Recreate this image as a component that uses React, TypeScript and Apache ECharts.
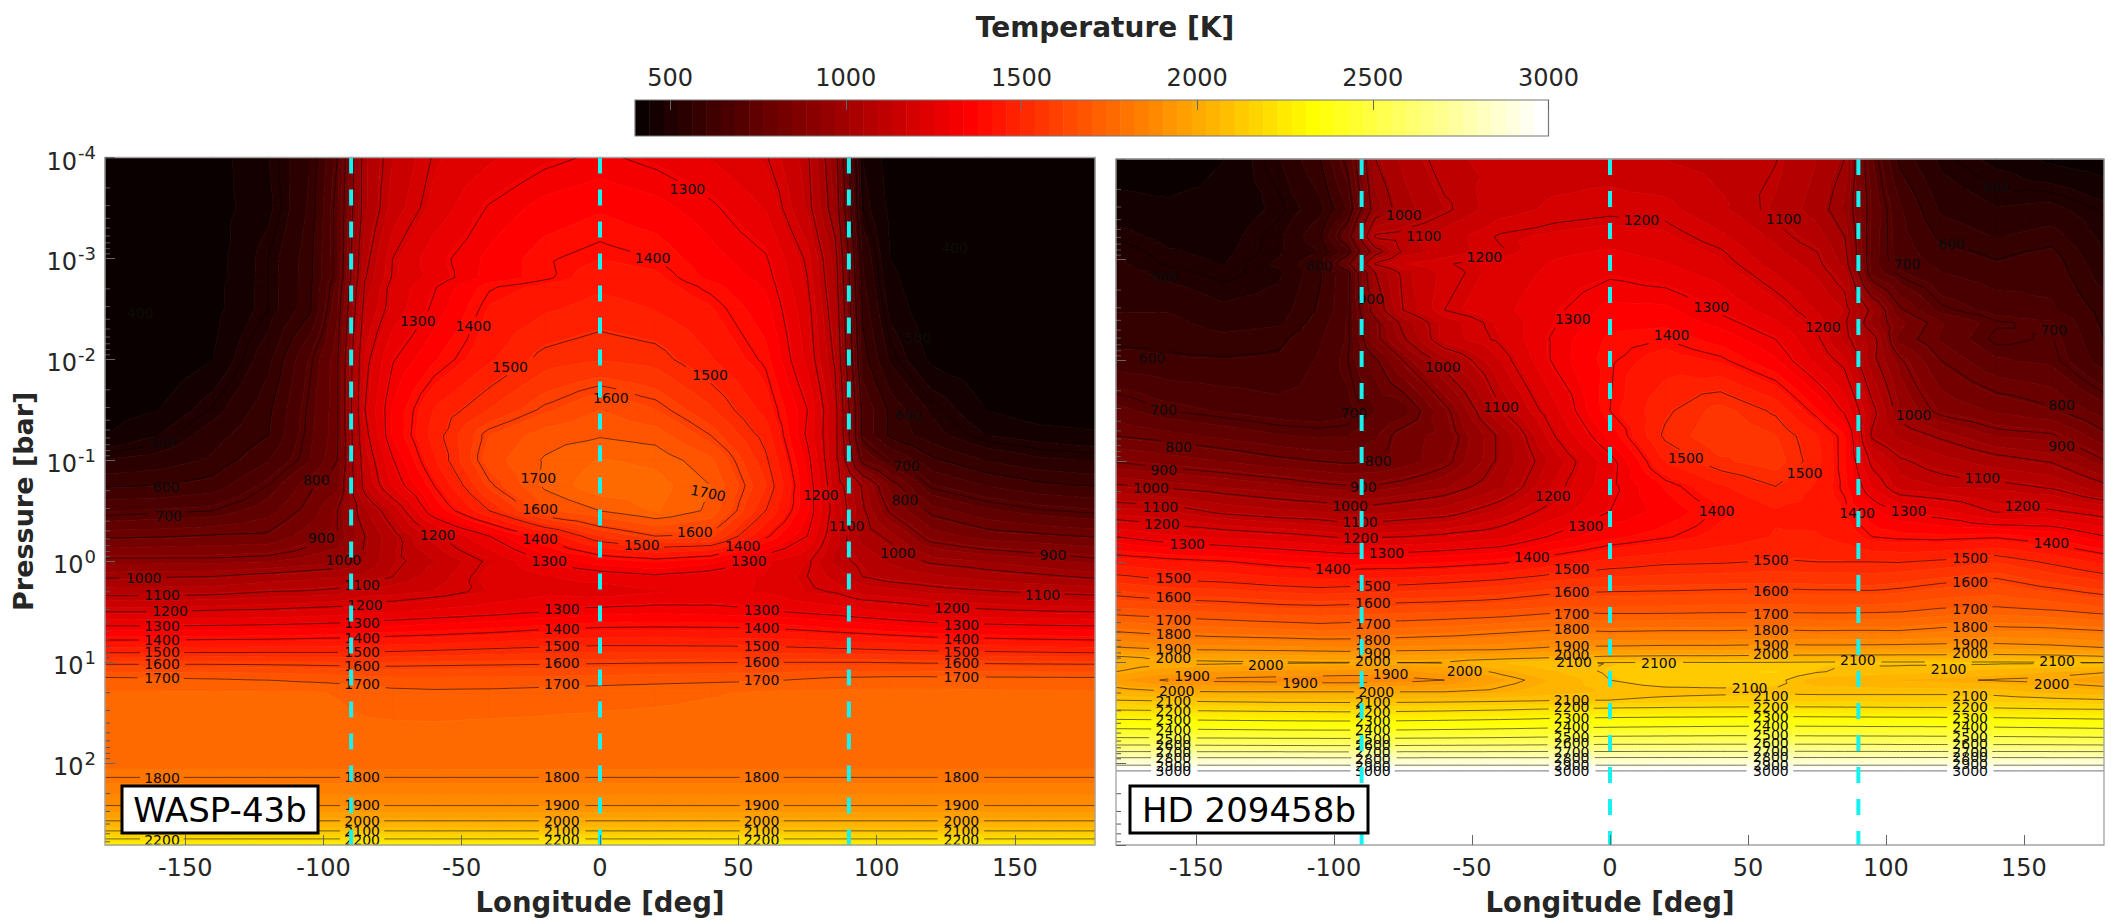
import React, { useEffect, useRef } from "react";
import * as echarts from "echarts";

const FONT = '"DejaVu Sans", sans-serif';
const INK = "#262626";

const longitudes = [-179,-160,-140,-120,-105,-95,-85,-75,-60,-40,-20,0,20,40,60,75,85,95,105,120,140,160,179];

const waspExponents = [-4,-3.5,-3,-2.81,-2.72,-2.5,-2,-1.5,-1.25,-1,-0.75,-0.5,-0.25,0,0.15,0.3,0.5,0.65,0.8,0.9,1,1.15,1.3,1.6,2.07,2.14,2.42,2.57,2.67,2.75,2.81];
const waspTemps = [
[405,405,420,480,560,700,1040,1130,1205,1245,1285,1310,1285,1250,1205,1110,940,480,420,402,400,400,400],
[405,405,420,470,570,720,1040,1150,1225,1305,1350,1370,1350,1310,1250,1125,960,500,430,405,400,400,400],
[405,405,420,500,585,720,1080,1200,1280,1345,1395,1415,1400,1350,1305,1190,1030,560,440,410,402,400,400],
[405,405,420,500,585,720,1095,1205,1270,1350,1392,1440,1425,1365,1320,1200,1040,570,450,405,402,400,400],
[405,405,425,500,590,740,1110,1220,1295,1395,1425,1450,1435,1390,1330,1205,1045,575,455,405,402,400,400],
[405,405,425,500,590,760,1130,1225,1310,1420,1450,1472,1455,1420,1350,1220,1060,590,470,405,402,400,400],
[400,400,440,550,690,790,1180,1295,1370,1450,1515,1535,1520,1460,1390,1240,1090,620,515,430,405,400,400],
[420,440,505,590,710,790,1200,1340,1460,1540,1610,1660,1620,1545,1440,1300,1130,680,590,515,440,410,405],
[440,480,545,600,715,790,1180,1340,1475,1620,1680,1695,1680,1600,1480,1290,1130,680,590,540,480,460,450],
[525,540,570,640,725,800,1150,1295,1450,1640,1705,1745,1730,1670,1510,1320,1130,770,690,610,560,530,520],
[595,600,620,700,790,830,1130,1260,1400,1590,1710,1770,1760,1700,1540,1340,1150,990,830,690,640,610,597],
[680,690,700,750,820,900,1040,1140,1340,1500,1650,1700,1745,1690,1500,1340,1170,1010,890,785,735,705,690],
[790,795,805,810,870,900,1000,1080,1190,1300,1420,1540,1600,1590,1410,1300,1150,1030,985,870,825,810,795],
[915,915,915,925,945,960,1010,1085,1130,1210,1300,1355,1380,1350,1260,1210,1120,1085,1045,990,965,940,915],
[990,995,1000,1020,1035,1045,1060,1100,1150,1225,1250,1270,1290,1270,1250,1200,1160,1100,1075,1060,1030,1010,990],
[1075,1075,1080,1100,1105,1115,1150,1155,1175,1215,1240,1230,1250,1260,1250,1210,1195,1155,1145,1122,1105,1090,1080],
[1200,1200,1210,1215,1225,1230,1245,1250,1265,1280,1300,1320,1325,1320,1308,1290,1280,1265,1252,1230,1215,1205,1200],
[1307,1307,1310,1315,1320,1325,1335,1340,1350,1365,1385,1397,1400,1398,1395,1380,1368,1358,1345,1330,1320,1312,1307],
[1415,1415,1418,1420,1425,1428,1433,1438,1445,1458,1472,1480,1480,1478,1475,1468,1462,1455,1448,1435,1428,1420,1415],
[1495,1495,1497,1498,1498,1498,1498,1505,1512,1522,1530,1538,1536,1535,1533,1528,1524,1520,1515,1510,1505,1500,1495],
[1585,1585,1585,1583,1580,1578,1575,1578,1582,1586,1590,1593,1596,1598,1600,1600,1600,1600,1597,1593,1590,1587,1585],
[1700,1698,1695,1690,1680,1675,1668,1662,1662,1663,1665,1670,1675,1680,1685,1695,1700,1702,1705,1705,1703,1701,1700],
[1745,1745,1745,1745,1745,1738,1725,1715,1710,1712,1718,1725,1732,1738,1745,1750,1750,1752,1752,1752,1750,1748,1745],
[1752,1752,1752,1752,1752,1750,1745,1743,1742,1745,1748,1750,1750,1752,1752,1752,1752,1752,1752,1752,1752,1752,1752],
[1782,1782,1782,1782,1782,1782,1782,1782,1782,1782,1782,1782,1782,1782,1782,1782,1782,1782,1782,1782,1782,1782,1782],
[1800,1800,1800,1800,1800,1800,1800,1800,1800,1800,1800,1800,1800,1800,1800,1800,1800,1800,1800,1800,1800,1800,1800],
[1900,1900,1900,1900,1900,1900,1900,1900,1900,1900,1900,1900,1900,1900,1900,1900,1900,1900,1900,1900,1900,1900,1900],
[2000,2000,2000,2000,2000,2000,2000,2000,2000,2000,2000,2000,2000,2000,2000,2000,2000,2000,2000,2000,2000,2000,2000],
[2100,2100,2100,2100,2100,2100,2100,2100,2100,2100,2100,2100,2100,2100,2100,2100,2100,2100,2100,2100,2100,2100,2100],
[2200,2200,2200,2200,2200,2200,2200,2200,2200,2200,2200,2200,2200,2200,2200,2200,2200,2200,2200,2200,2200,2200,2200],
[2270,2270,2270,2270,2270,2270,2270,2270,2270,2270,2270,2270,2270,2270,2270,2270,2270,2270,2270,2270,2270,2270,2270],
];

const hdExponents = [-4,-3.5,-3.23,-3.08,-2.96,-2.87,-2.5,-2.375,-2.21,-2,-1.5,-1.25,-1,-0.75,-0.5,-0.25,0,0.2,0.45,0.7,0.85,0.95,1,1.09,1.173,1.289,1.372,1.47,1.563,1.655,1.744,1.817,1.883,1.943,2.018,2.074];
const hdTemps = [
[410,410,440,520,600,720,1000,1060,1125,1140,1150,1150,1130,1115,1102,1050,1000,730,590,510,470,430,410],
[460,450,455,490,550,650,950,1030,1090,1155,1180,1190,1185,1140,1085,1030,960,760,650,555,525,535,495],
[495,470,465,515,597,760,1110,1125,1150,1205,1220,1230,1220,1180,1120,1070,1000,750,660,590,560,580,510],
[520,485,472,515,565,670,960,1110,1150,1195,1245,1258,1238,1205,1140,1100,1020,745,665,615,590,610,520],
[530,495,480,530,600,780,1110,1170,1195,1225,1258,1275,1255,1220,1155,1115,1035,740,675,630,605,625,530],
[540,510,490,515,595,680,1000,1115,1185,1225,1265,1290,1270,1235,1170,1125,1070,750,690,645,620,630,540],
[560,560,530,540,610,680,950,1100,1200,1240,1290,1348,1345,1290,1230,1170,1130,980,810,710,670,650,585],
[575,575,545,555,625,690,880,1020,1150,1220,1295,1360,1365,1320,1260,1190,1110,950,860,770,705,690,590],
[590,590,575,590,640,690,880,990,1150,1210,1310,1385,1400,1360,1300,1210,1120,1030,830,760,690,705,600],
[620,608,605,610,650,700,790,900,1030,1170,1310,1395,1435,1410,1340,1240,1180,1020,910,800,730,715,620],
[740,700,680,660,655,670,725,740,880,1090,1240,1400,1490,1555,1490,1380,1290,1120,970,880,840,810,745],
[800,780,755,730,720,725,760,830,860,1010,1200,1350,1510,1570,1540,1460,1380,1090,1040,990,925,910,815],
[895,870,845,815,800,790,800,820,880,1010,1150,1280,1460,1530,1560,1470,1380,1180,1110,1070,1025,995,905],
[1010,990,965,940,915,905,905,925,960,1040,1180,1285,1380,1450,1500,1450,1390,1250,1150,1130,1120,1090,1015],
[1153,1135,1085,1060,1050,1030,1035,1050,1070,1140,1230,1300,1350,1405,1450,1440,1415,1350,1300,1270,1195,1210,1170],
[1300,1265,1245,1225,1205,1190,1195,1200,1215,1240,1310,1365,1395,1430,1460,1460,1440,1400,1390,1385,1395,1365,1305],
[1440,1420,1405,1380,1365,1355,1360,1360,1370,1390,1435,1470,1490,1495,1505,1500,1500,1500,1498,1510,1535,1490,1445],
[1535,1510,1500,1480,1470,1475,1480,1485,1495,1515,1545,1560,1565,1570,1575,1570,1570,1565,1575,1595,1615,1575,1540],
[1655,1640,1630,1615,1610,1615,1620,1625,1630,1640,1665,1665,1665,1670,1670,1668,1668,1670,1675,1695,1702,1685,1660],
[1805,1785,1770,1760,1750,1755,1760,1765,1775,1795,1815,1805,1810,1810,1815,1810,1812,1812,1810,1825,1830,1825,1810],
[1905,1880,1875,1870,1865,1860,1860,1870,1875,1880,1905,1910,1915,1915,1920,1918,1918,1920,1922,1925,1925,1915,1900],
[2015,1985,1975,1970,1965,1965,1965,1965,1970,1975,2000,2015,2020,2020,2025,2028,2030,2030,2030,2030,2035,2030,2015],
[2025,2012,2010,2006,2003,2003,2003,2000,2003,2060,2102,2102,2105,2103,2105,2110,2110,2110,2110,2110,2110,2108,2100],
[2000,1960,1940,1930,1930,1925,1920,1930,1960,2010,2060,2110,2140,2140,2150,2105,2090,2085,2080,2070,2045,2025,2005],
[1950,1890,1885,1880,1870,1870,1875,1880,1900,1975,2030,2100,2130,2130,2120,2040,2040,2030,2020,2010,1995,1985,1960],
[2030,2005,2000,2000,2000,2000,1998,2000,2000,2015,2050,2070,2080,2085,2090,2085,2085,2085,2085,2085,2080,2050,2035],
[2100,2090,2082,2075,2075,2075,2075,2075,2078,2085,2095,2100,2115,2125,2130,2130,2130,2130,2130,2130,2125,2115,2105],
[2200,2195,2190,2185,2182,2180,2180,2185,2190,2200,2215,2225,2230,2232,2235,2232,2230,2228,2226,2225,2220,2212,2207],
[2300,2295,2290,2285,2283,2283,2283,2285,2290,2298,2310,2318,2322,2325,2328,2326,2325,2324,2323,2322,2318,2310,2303],
[2400,2395,2390,2385,2383,2382,2382,2385,2390,2398,2408,2415,2420,2425,2428,2426,2425,2423,2422,2421,2416,2410,2403],
[2500,2497,2494,2491,2490,2490,2490,2492,2495,2500,2508,2515,2518,2520,2520,2518,2518,2517,2516,2515,2512,2508,2503],
[2600,2598,2595,2592,2590,2590,2590,2592,2595,2598,2603,2608,2608,2610,2610,2610,2608,2608,2606,2606,2605,2603,2600],
[2700,2700,2698,2698,2696,2696,2696,2698,2698,2700,2702,2702,2703,2703,2704,2704,2703,2703,2702,2702,2702,2701,2700],
[2800,2800,2800,2800,2798,2798,2798,2798,2800,2800,2800,2802,2802,2802,2802,2802,2802,2802,2802,2802,2802,2800,2800],
[2900,2900,2900,2900,2900,2900,2900,2900,2900,2900,2900,2900,2900,2900,2900,2900,2900,2900,2900,2900,2900,2900,2900],
[3000,3000,3000,3000,3000,3000,3000,3000,3000,3000,3000,3000,3000,3000,3000,3000,3000,3000,3000,3000,3000,3000,3000],
];

// contour labels: [longitude, pressure exponent, level, rotation]
const waspLabels = [
[-165,0.166,1000],[-158.4,0.335,1100],[-155.5,0.49,1200],[-158.4,0.641,1300],[-158.4,0.777,1400],[-158.4,0.903,1500],[-158.4,1.022,1600],[-158.4,1.153,1700],[-158.4,2.147,1800],[-158.4,2.757,2200],
[-92.8,-0.015,1000],[-86,0.233,1100],[-85,0.434,1200],[-86,0.612,1300],[-86,0.757,1400],[-86,0.9,1500],[-86,1.035,1600],[-86,1.22,1700],[-86,2.14,1800],[-86,2.418,1900],[-86,2.57,2000],[-86,2.675,2100],[-86,2.757,2200],
[-13.8,0.477,1300],[-13.8,0.668,1400],[-13.8,0.84,1500],[-13.8,1.012,1600],[-13.8,1.22,1700],[-13.8,2.137,1800],[-13.8,2.418,1900],[-13.8,2.57,2000],[-13.8,2.675,2100],[-13.8,2.757,2200],
[58.4,0.483,1300],[58.4,0.665,1400],[58.4,0.837,1500],[58.4,0.995,1600],[58.4,1.173,1700],[58.4,2.137,1800],[58.4,2.418,1900],[58.4,2.57,2000],[58.4,2.675,2100],[58.4,2.757,2200],
[127.2,0.463,1200],[130.7,0.626,1300],[130.7,0.767,1400],[130.7,0.896,1500],[130.7,1.012,1600],[130.7,1.144,1700],[130.7,2.14,1800],[130.7,2.418,1900],[130.7,2.57,2000],[130.7,2.675,2100],[130.7,2.757,2200],
[-166.2,-2.46,400],[-65.9,-2.384,1300],[-45.8,-2.33,1400],[-32.5,-1.923,1500],[3.9,-1.62,1600],[-158.4,-1.183,500],[-156.9,-0.74,600],[-102.6,-0.807,800],[-22.3,-0.824,1700],
[31.6,-3.685,1300],[19,-3.0,1400],[39.8,-1.847,1500],[39.1,-0.675,1700,-0.2],[79.9,-0.658,1200],[128.3,-3.1,400],[115,-2.21,500],[111.5,-1.45,600],[110.8,-0.94,700],[110.2,-0.61,800],
[-156,-0.45,700],[-100.8,-0.23,900],[-58.7,-0.265,1200],[-21.7,-0.52,1600],[-21.7,-0.226,1400],[-18.4,-0.005,1300],
[34.3,-0.295,1600],[15.1,-0.157,1500],[51.6,-0.147,1400],[53.8,-0.008,1300],[89.2,-0.345,1100],[107.7,-0.081,1000],[163.8,-0.064,900],[160,0.332,1100],
];
const hdLabels = [
[-162.9,-0.55,1100],[-162.4,-0.378,1200],[-153.2,-0.177,1300],[-158.2,0.163,1500],[-158.2,0.351,1600],[-158.2,0.572,1700],[-158.2,0.718,1800],[-158.2,0.866,1900],[-158.2,0.955,2000],[-151.4,1.13,1900],[-157,1.279,2000],[-158.2,1.384,2100],[-158.2,1.477,2200],[-158.2,1.573,2300],[-158.2,1.665,2400],[-158.2,1.754,2500],[-158.2,1.82,2600],[-158.2,1.886,2700],[-158.2,1.949,2800],[-158.2,2.021,2900],[-158.2,2.077,3000],
[-100.4,0.071,1400],[-124.7,1.025,2000],[-112.3,1.2,1900],
[-94.2,-0.56,1000],[-90.6,-0.394,1100],[-90.4,-0.239,1200],[-81,-0.091,1300],[-85.9,0.242,1500],[-85.9,0.411,1600],[-85.9,0.615,1700],[-85.9,0.77,1800],[-85.9,0.903,1900],[-85.9,0.982,2000],[-79.5,1.114,1900],[-84.7,1.295,2000],[-85.9,1.391,2100],[-85.9,1.487,2200],[-85.9,1.579,2300],[-85.9,1.668,2400],[-85.9,1.754,2500],[-85.9,1.82,2600],[-85.9,1.889,2700],[-85.9,1.952,2800],[-85.9,2.021,2900],[-85.9,2.077,3000],
[-52.7,1.081,2000],[-28.3,-0.048,1400],[-8.8,-0.361,1300],[-13.9,0.068,1500],[-13.9,0.299,1600],[-13.9,0.513,1700],[-13.9,0.668,1800],[-13.9,0.83,1900],[-13.9,0.919,2000],[-13,0.998,2100],[-13.9,1.375,2100],[-13.9,1.444,2200],[-13.9,1.553,2300],[-13.9,1.642,2400],[-13.9,1.734,2500],[-13.9,1.8,2600],[-13.9,1.883,2700],[-13.9,1.942,2800],[-13.9,2.018,2900],[-13.9,2.074,3000],
[-161.7,-2.827,500],[-105.4,-2.936,600],[-74.7,-3.447,1000],[-67.5,-3.233,1100],[-45.5,-3.025,1200],[-166,-2.028,600],[-86.7,-2.606,900],[-60.6,-1.936,1000],[-39.5,-1.54,1100],[-13.5,-2.408,1300],[-161.8,-1.507,700],[-92.8,-1.474,700],[-156.3,-1.144,800],[-84,-1.005,800],[-161.7,-0.916,900],[-89.4,-0.748,900],[-166.3,-0.734,1000],[-20.7,-0.658,1200],
[11.4,-3.398,1200],[62.9,-3.404,1100],[139.8,-3.718,500],[123.7,-3.157,600],[107.6,-2.959,700],[36.7,-2.533,1300],[77.1,-2.332,1200],[22.3,-2.25,1400],[160.8,-2.299,700],[110,-1.457,1000],[163.6,-1.56,800],[163.6,-1.153,900],[27.5,-1.032,1500],[70.5,-0.88,1500],[134.9,-0.833,1100],
[38.6,-0.51,1400],[89.5,-0.484,1400],[108.2,-0.51,1300],[149.4,-0.56,1200],[159.9,-0.19,1400],[58.3,-0.022,1500],[130.5,-0.041,1500],[58.3,0.289,1600],[130.5,0.2,1600],[58.3,0.513,1700],[130.5,0.464,1700],[58.3,0.678,1800],[130.5,0.648,1800],[58.3,0.827,1900],[130.5,0.817,1900],[58.3,0.916,2000],[130.5,0.903,2000],[17.7,1.0,2100],[89.8,0.975,2100],[162,0.982,2100],[122.7,1.058,2100],[160,1.216,2000],[50.6,1.256,2100],
[58.3,1.332,2100],[58.3,1.437,2200],[58.3,1.536,2300],[58.3,1.629,2400],[58.3,1.721,2500],[58.3,1.8,2600],[58.3,1.873,2700],[58.3,1.939,2800],[58.3,2.015,2900],[58.3,2.074,3000],
[130.5,1.332,2100],[130.5,1.444,2200],[130.5,1.546,2300],[130.5,1.642,2400],[130.5,1.734,2500],[130.5,1.81,2600],[130.5,1.883,2700],[130.5,1.939,2800],[130.5,2.005,2900],[130.5,2.071,3000],
];

const waspLevels = [500,600,700,800,900,1000,1100,1200,1300,1400,1500,1600,1700,1800,1900,2000,2100,2200];
const hdLevels = [500,600,700,800,900,1000,1100,1200,1300,1400,1500,1600,1700,1800,1900,2000,2100,2200,2300,2400,2500,2600,2700,2800,2900,3000];
const colorTicks = [500,1000,1500,2000,2500,3000];
const lonTicks = [-150,-100,-50,0,50,100,150];
const dashedLons = [-90,0,90];
const T_MIN = 400;
const T_MAX = 3000;
const STEPS = 64;
const P_MIN = 1e-4;
const P_MAX = Math.pow(10, 2.81);
const bandIndices = Array.from({ length: STEPS }, (_, i) => i);
const bandW = (T_MAX - T_MIN) / STEPS;

function hot(i: number) {
  const n = i + 1;
  const c = (v: number) => Math.round(255 * Math.max(0, Math.min(1, v)));
  return `rgb(${c(n / 24)},${c((n - 24) / 24)},${c((n - 48) / 16)})`;
}

type V = [number, number, number];
function buildTriangles(api: any, exps: number[], temps: number[][]) {
  const pts: V[][] = exps.map((e, r) =>
    longitudes.map((lon, c) => {
      const p = api.coord([lon, Math.pow(10, e)]);
      return [p[0], p[1], temps[r][c]] as V;
    })
  );
  const tris: V[][] = [];
  for (let r = 0; r + 1 < exps.length; r++) {
    for (let c = 0; c + 1 < longitudes.length; c++) {
      const a = pts[r][c], b = pts[r][c + 1], d = pts[r + 1][c + 1], e = pts[r + 1][c];
      const m: V = [(a[0] + b[0] + d[0] + e[0]) / 4, (a[1] + b[1] + d[1] + e[1]) / 4, (a[2] + b[2] + d[2] + e[2]) / 4];
      tris.push([m, a, b], [m, b, d], [m, d, e], [m, e, a]);
    }
  }
  return tris;
}

function clipAt(poly: V[], lim: number, keepAbove: boolean) {
  const out: V[] = [];
  const inside = (t: number) => (keepAbove ? t >= lim : t <= lim);
  for (let i = 0; i < poly.length; i++) {
    const a = poly[i], b = poly[(i + 1) % poly.length];
    const ia = inside(a[2]), ib = inside(b[2]);
    if (ia) out.push(a);
    if (ia !== ib) {
      const t = (lim - a[2]) / (b[2] - a[2]);
      out.push([a[0] + t * (b[0] - a[0]), a[1] + t * (b[1] - a[1]), lim]);
    }
  }
  return out;
}

function makePanel(gridIndex: number, exps: number[], temps: number[][], labels: number[][], levels: number[]) {
  let tris: V[][] | null = null;
  const getTris = (api: any) => (tris = tris || buildTriangles(api, exps, temps));
  const base = { type: "custom", coordinateSystem: "cartesian2d", xAxisIndex: gridIndex, yAxisIndex: gridIndex, silent: true, clip: false, encode: { x: 0, y: 1 } };
  const fill = {
    ...base, z: 1,
    data: bandIndices.map((i) => [0, 1, i]),
    renderItem: (_: any, api: any) => {
      const i = api.value(2);
      const lo = i === 0 ? -1e9 : T_MIN + i * bandW;
      const hi = i === STEPS - 1 ? 1e9 : T_MIN + (i + 1) * bandW;
      let d = "";
      for (const tri of getTris(api)) {
        const mn = Math.min(tri[0][2], tri[1][2], tri[2][2]);
        const mx = Math.max(tri[0][2], tri[1][2], tri[2][2]);
        if (mx < lo || mn > hi) continue;
        let poly = clipAt(tri, lo, true);
        if (poly.length) poly = clipAt(poly, hi, false);
        if (poly.length < 3) continue;
        d += "M" + poly.map((q) => q[0].toFixed(1) + " " + q[1].toFixed(1)).join("L") + "Z";
      }
      if (!d) return null;
      const col = hot(i);
      return { type: "path", shape: { pathData: d }, style: { fill: col, stroke: col, lineWidth: 0.7 } };
    },
  };
  const lines = {
    ...base, z: 2,
    data: levels.map((l) => [0, 1, l]),
    renderItem: (_: any, api: any) => {
      const L = api.value(2);
      const boxes = labels.filter((b) => b[2] === L).map((b) => {
        const p = api.coord([b[0], Math.pow(10, b[1])]);
        return [p[0], p[1], L >= 1000 ? 23 : 18];
      });
      let d = "";
      for (const tri of getTris(api)) {
        const cross: number[][] = [];
        for (let k = 0; k < 3; k++) {
          const a = tri[k], b = tri[(k + 1) % 3];
          if (a[2] < L !== b[2] < L) {
            const t = (L - a[2]) / (b[2] - a[2]);
            cross.push([a[0] + t * (b[0] - a[0]), a[1] + t * (b[1] - a[1])]);
          }
        }
        if (cross.length !== 2) continue;
        const [p, q] = cross;
        const n = Math.max(1, Math.ceil(Math.hypot(q[0] - p[0], q[1] - p[1]) / 3));
        let pen = false;
        for (let s = 0; s < n; s++) {
          const x0 = p[0] + ((q[0] - p[0]) * s) / n, y0 = p[1] + ((q[1] - p[1]) * s) / n;
          const x1 = p[0] + ((q[0] - p[0]) * (s + 1)) / n, y1 = p[1] + ((q[1] - p[1]) * (s + 1)) / n;
          const mx = (x0 + x1) / 2, my = (y0 + y1) / 2;
          const hidden = boxes.some((b) => Math.abs(mx - b[0]) < b[2] && Math.abs(my - b[1]) < 9);
          if (hidden) { pen = false; continue; }
          d += (pen ? "" : "M" + x0.toFixed(1) + " " + y0.toFixed(1)) + "L" + x1.toFixed(1) + " " + y1.toFixed(1);
          pen = true;
        }
      }
      if (!d) return null;
      return { type: "path", shape: { pathData: d }, style: { fill: "none", stroke: "#000", lineWidth: 0.7, opacity: 0.8 } };
    },
  };
  const text = {
    ...base, z: 3,
    data: labels.map((b) => [b[0], Math.pow(10, b[1]), b[2], b[3] || 0]),
    renderItem: (_: any, api: any) => {
      const p = api.coord([api.value(0), api.value(1)]);
      return {
        type: "text", x: p[0], y: p[1], rotation: api.value(3),
        style: { text: String(api.value(2)), fontSize: 14, fontFamily: FONT, fill: "#0c0c0c", align: "center", verticalAlign: "middle" },
      };
    },
  };
  const dashes = dashedLons.map((lon) => ({
    type: "line", xAxisIndex: gridIndex, yAxisIndex: gridIndex, z: 4, silent: true, showSymbol: false, symbol: "none",
    data: [[lon, P_MIN], [lon, P_MAX]],
    lineStyle: { color: "#14F2F2", width: 4, type: [16, 16], cap: "butt" },
  }));
  const minorPressures: number[] = [];
  for (let e = -4; e <= 2; e++) for (const m of [2, 3, 4, 5, 6, 7, 8, 9]) {
    const p = m * Math.pow(10, e);
    if (p < P_MAX) minorPressures.push(p);
  }
  const minor = {
    ...base, z: 5,
    data: minorPressures.map((p) => [-179, p]),
    renderItem: (_: any, api: any) => {
      const p = api.coord([api.value(0), api.value(1)]);
      return { type: "line", shape: { x1: p[0], y1: p[1], x2: p[0] + 5, y2: p[1] }, style: { stroke: "#555", lineWidth: 1 } };
    },
  };
  const frame = {
    ...base, z: 6,
    data: [[-179, P_MIN]],
    renderItem: (_: any, api: any) => {
      const a = api.coord([-179, P_MIN]), b = api.coord([179, P_MAX]);
      return { type: "rect", shape: { x: a[0], y: a[1], width: b[0] - a[0], height: b[1] - a[1] }, style: { fill: "none", stroke: "#a3a3a3", lineWidth: 1.3 } };
    },
  };
  return [fill, lines, text, ...dashes, minor, frame];
}

function lonAxis(gridIndex: number) {
  return {
    type: "value", gridIndex, min: -179, max: 179, z: 10,
    name: "Longitude [deg]", nameLocation: "middle", nameGap: 43,
    nameTextStyle: { fontSize: 27.5, fontWeight: "bold", fontFamily: FONT, color: INK, verticalAlign: "top" },
    axisLine: { show: false, onZero: false },
    axisTick: { show: true, inside: true, length: 10, customValues: lonTicks, lineStyle: { color: "#666", width: 1 } },
    axisLabel: { show: true, customValues: lonTicks, fontSize: 24, fontFamily: FONT, color: INK, margin: 11 },
    splitLine: { show: false },
  };
}
function pressureAxis(gridIndex: number, showLabels: boolean) {
  return {
    type: "log", logBase: 10, gridIndex, min: P_MIN, max: P_MAX, inverse: true, z: 10, splitNumber: 7,
    name: showLabels ? "Pressure [bar]" : "", nameLocation: "middle", nameGap: 68,
    nameTextStyle: { fontSize: 27, fontWeight: "bold", fontFamily: FONT, color: INK },
    axisLine: { show: false, onZero: false },
    axisTick: { show: true, inside: true, length: 10, lineStyle: { color: "#666", width: 1 } },
    axisLabel: {
      show: showLabels, showMaxLabel: false, margin: 9, fontSize: 24, fontFamily: FONT, color: INK,
      formatter: (v: number) => `{a|10}{b|${Math.round(Math.log10(v))}}`,
      rich: {
        a: { fontSize: 24, fontFamily: FONT, color: INK, padding: [8, 0, 0, 0] },
        b: { fontSize: 18, fontFamily: FONT, color: INK, padding: [0, 0, 10, 1] },
      },
    },
    splitLine: { show: false },
    minorTick: { show: false },
  };
}

export default function App() {
  const ref = useRef<HTMLDivElement>(null);
  useEffect(() => {
    const chart = echarts.init(ref.current!, undefined, { renderer: "svg" });
    const barBase = { type: "custom", coordinateSystem: "cartesian2d", xAxisIndex: 2, yAxisIndex: 2, silent: true, clip: false, encode: { x: 0, y: 1 } };
    chart.setOption({
      animation: false,
      backgroundColor: "#fff",
      title: {
        text: "Temperature [K]", left: 1100, top: 8, textAlign: "center",
        textStyle: { fontSize: 28, fontWeight: "bold", fontFamily: FONT, color: INK },
      },
      grid: [
        { left: 105, top: 157.5, width: 990, height: 687.5 },
        { left: 1116, top: 159, width: 988, height: 686 },
        { left: 635, top: 100, width: 913.5, height: 36 },
      ],
      xAxis: [
        lonAxis(0),
        lonAxis(1),
        {
          type: "value", gridIndex: 2, min: T_MIN, max: T_MAX, position: "top", z: 10,
          axisLine: { show: false, onZero: false },
          axisTick: { show: true, inside: true, length: 10, customValues: colorTicks, lineStyle: { color: "#666" } },
          axisLabel: { show: true, customValues: colorTicks, formatter: (v: number) => String(v), fontSize: 24, fontFamily: FONT, color: INK, margin: 10 },
          splitLine: { show: false },
        },
      ],
      yAxis: [
        pressureAxis(0, true),
        pressureAxis(1, false),
        { type: "value", gridIndex: 2, min: 0, max: 1, show: false },
      ],
      series: [
        ...makePanel(0, waspExponents, waspTemps, waspLabels, waspLevels),
        ...makePanel(1, hdExponents, hdTemps, hdLabels, hdLevels),
        {
          ...barBase, z: 1,
          data: bandIndices.map((i) => [T_MIN + i * bandW, 0, i]),
          renderItem: (_: any, api: any) => {
            const a = api.coord([api.value(0), 1]);
            const b = api.coord([api.value(0) + bandW, 0]);
            const col = hot(api.value(2));
            return { type: "rect", shape: { x: a[0], y: a[1], width: b[0] - a[0] + 0.5, height: b[1] - a[1] }, style: { fill: col } };
          },
        },
        {
          ...barBase, z: 2,
          data: [[T_MIN, 0]],
          renderItem: (_: any, api: any) => {
            const a = api.coord([T_MIN, 1]), b = api.coord([T_MAX, 0]);
            return { type: "rect", shape: { x: a[0], y: a[1], width: b[0] - a[0], height: b[1] - a[1] }, style: { fill: "none", stroke: "#777", lineWidth: 1.2 } };
          },
        },
      ],
      graphic: [
        { type: "rect", z: 100, shape: { x: 122, y: 786, width: 196, height: 47 }, style: { fill: "#fff", stroke: "#000", lineWidth: 3 } },
        { type: "text", z: 101, x: 220, y: 810, style: { text: "WASP-43b", fontSize: 34, fontFamily: FONT, fill: "#000", align: "center", verticalAlign: "middle" } },
        { type: "rect", z: 100, shape: { x: 1130, y: 786, width: 238, height: 47 }, style: { fill: "#fff", stroke: "#000", lineWidth: 3 } },
        { type: "text", z: 101, x: 1249, y: 810, style: { text: "HD 209458b", fontSize: 34, fontFamily: FONT, fill: "#000", align: "center", verticalAlign: "middle" } },
      ],
    });
    return () => chart.dispose();
  }, []);
  return <div ref={ref} style={{ position: "fixed", left: 0, top: 0, width: 2111, height: 921 }} />;
}
